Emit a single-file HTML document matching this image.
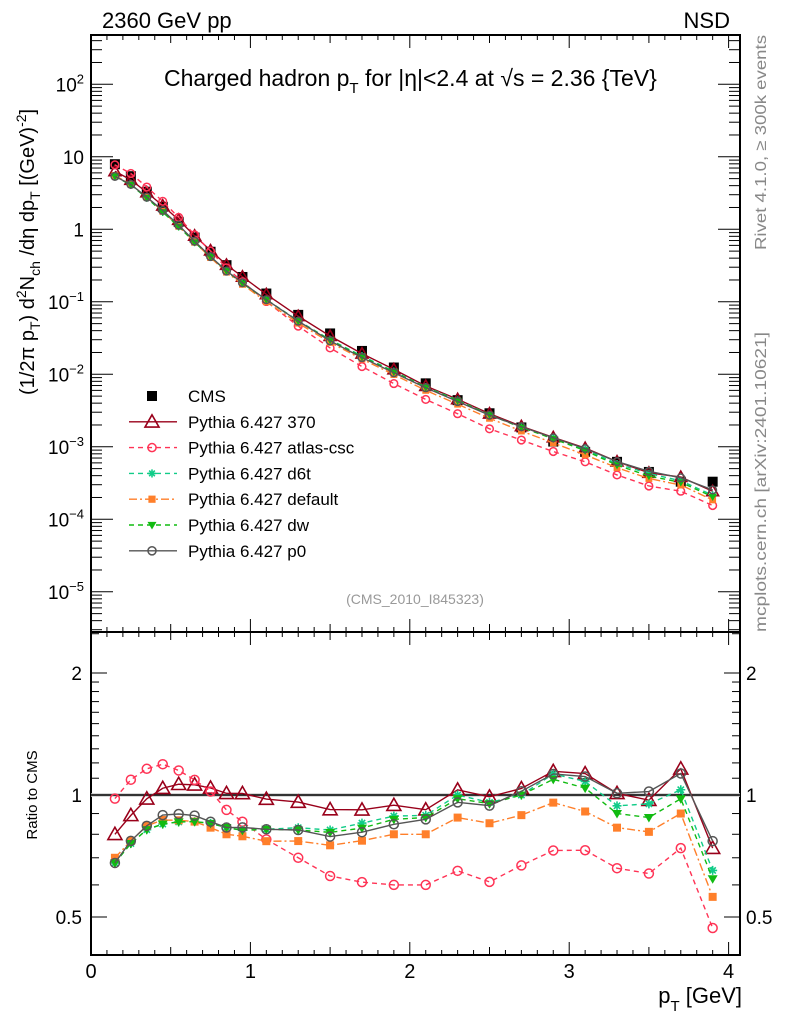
<!DOCTYPE html>
<html><head><meta charset="utf-8"><style>
html,body{margin:0;padding:0;background:#fff;}
svg{display:block;font-family:"Liberation Sans",sans-serif;}
</style></head><body>
<svg id="chart" width="786" height="1024" viewBox="0 0 786 1024" xmlns="http://www.w3.org/2000/svg">
<rect width="786" height="1024" fill="#fff"/>
<text x="102" y="28" font-size="22">2360 GeV pp</text>
<text x="730" y="28" font-size="22" text-anchor="end">NSD</text>
<text x="164" y="86" font-size="23">Charged hadron p<tspan font-size="15" dy="7">T</tspan><tspan dy="-7"> for |η|&lt;2.4 at √s = 2.36 {TeV}</tspan></text>
<text x="415" y="604" font-size="14" fill="#999" text-anchor="middle">(CMS_2010_I845323)</text>
<text transform="translate(766,35) rotate(-90)" x="0" y="0" font-size="16" fill="#888" text-anchor="end" textLength="215" lengthAdjust="spacingAndGlyphs">Rivet 4.1.0, ≥ 300k events</text>
<text transform="translate(766,632) rotate(-90)" x="0" y="0" font-size="16" fill="#888" textLength="300" lengthAdjust="spacingAndGlyphs">mcplots.cern.ch [arXiv:2401.10621]</text>
<text transform="translate(34,395) rotate(-90)" font-size="20">(1/2π p<tspan font-size="14" dy="6">T</tspan><tspan dy="-6">) d</tspan><tspan font-size="14" dy="-8">2</tspan><tspan dy="8">N</tspan><tspan font-size="14" dy="6">ch</tspan><tspan dy="-6"> /dη  dp</tspan><tspan font-size="14" dy="6">T</tspan><tspan dy="-6"> [(GeV)</tspan><tspan font-size="14" dy="-8">-2</tspan><tspan dy="8">]</tspan></text>
<text transform="translate(37,795) rotate(-90)" font-size="15" text-anchor="middle">Ratio to CMS</text>
<text x="742" y="1003" font-size="22" text-anchor="end">p<tspan font-size="15" dy="8">T</tspan><tspan dy="-8"> [GeV]</tspan></text>
<g id="g"></g>
</svg>
<script>
const xs = [0.15,0.25,0.35,0.45,0.55,0.65,0.75,0.85,0.95,1.1,1.3,1.5,1.7,1.9,2.1,2.3,2.5,2.7,2.9,3.1,3.3,3.5,3.7,3.9];
const cms = [7.9,5.4,3.3,2.04,1.27,0.77,0.49,0.32,0.22,0.13,0.066,0.0366,0.021,0.0124,0.0075,0.0044,0.0029,0.00185,0.00118,0.00085,0.00062,0.00045,0.00033,0.00033];
const p370 = [6.32,4.81,3.23,2.12,1.35,0.816,0.510,0.323,0.222,0.127,0.0634,0.0337,0.0193,0.0117,0.0069,0.00453,0.00287,0.00192,0.00135,0.00096,0.000626,0.000437,0.000383,0.000244];
const pAtlas = [7.74,5.89,3.83,2.43,1.46,0.839,0.500,0.294,0.189,0.101,0.0462,0.0231,0.0128,0.00744,0.0045,0.00286,0.00177,0.00124,0.000861,0.000621,0.000409,0.000288,0.000244,0.000155];
const pD6t = [5.37,4.10,2.71,1.73,1.09,0.662,0.417,0.266,0.180,0.107,0.0548,0.0300,0.0179,0.0110,0.00668,0.0044,0.00278,0.00185,0.00133,0.000918,0.000583,0.000428,0.00034,0.000215];
const pDefault = [5.53,4.16,2.77,1.77,1.10,0.662,0.407,0.256,0.174,0.100,0.0508,0.0275,0.0162,0.00992,0.006,0.00387,0.00247,0.00165,0.00113,0.000774,0.000515,0.000365,0.000297,0.000185];
const pDw = [5.37,4.10,2.71,1.73,1.09,0.662,0.417,0.266,0.180,0.107,0.0541,0.0296,0.0174,0.0108,0.0066,0.00431,0.00276,0.00185,0.00129,0.000884,0.000558,0.000396,0.000323,0.000205];
const pP0 = [5.37,4.16,2.77,1.82,1.14,0.685,0.421,0.266,0.183,0.107,0.0541,0.0289,0.0170,0.0105,0.00653,0.00422,0.00273,0.00189,0.00133,0.000944,0.000626,0.000459,0.000373,0.000254];
const seriesNames = ["Pythia 6.427 370","Pythia 6.427 atlas-csc","Pythia 6.427 d6t","Pythia 6.427 default","Pythia 6.427 dw","Pythia 6.427 p0"];
const xTicks = [0,1,2,3,4];
const yDecades = [2,1,0,-1,-2,-3,-4,-5];
const rTicks = [0.5,1,2];

const NS="http://www.w3.org/2000/svg";
const g=document.getElementById('g');
const L=91,R=740,T=35,MB=632,RB=955;
const X=v=>L+v*159.4;
const Y=v=>229.3-72.5*Math.log10(v);
const RY=v=>795-122*Math.log2(v);
function el(tag,attrs,parent){const e=document.createElementNS(NS,tag);for(const k in attrs)e.setAttribute(k,attrs[k]);(parent||g).appendChild(e);return e;}

const f1=el('rect',{x:L,y:T,width:R-L,height:MB-T,fill:'none',stroke:'#000','stroke-width':2});


const f2=el('rect',{x:L,y:MB,width:R-L,height:RB-MB,fill:'none',stroke:'#000','stroke-width':2});



for(let i=0;i<=40;i++){const v=i/10;const x=X(v);if(x>R)break;const major=i%10==0;const mid=i%5==0;
 const len=major?13:(mid?8:5);
 el('line',{x1:x,y1:T,x2:x,y2:T+len,stroke:'#000','stroke-width':1});
 el('line',{x1:x,y1:MB,x2:x,y2:MB-len,stroke:'#000','stroke-width':1});
 el('line',{x1:x,y1:MB,x2:x,y2:MB+len,stroke:'#000','stroke-width':1});
 el('line',{x1:x,y1:RB,x2:x,y2:RB-len,stroke:'#000','stroke-width':1});
}
xTicks.forEach(v=>{const t=el('text',{x:X(v),y:978,'font-size':20,'text-anchor':'middle'});t.textContent=v;
 
 });

for(let d=-6;d<=2;d++){for(let m=1;m<10;m++){const v=m*Math.pow(10,d);const y=Y(v);if(y<T||y>MB)continue;
 const len=m==1?22:11;
 el('line',{x1:L,y1:y,x2:L+len,y2:y,stroke:'#000','stroke-width':1});
 el('line',{x1:R,y1:y,x2:R-len,y2:y,stroke:'#000','stroke-width':1});}}
yDecades.forEach(d=>{const y=Y(Math.pow(10,d));const t=el('text',{x:84,y:y+7,'font-size':19,'text-anchor':'end'});
 
 
 if(d==0)t.textContent='1';else if(d==1)t.textContent='10';else{t.textContent='10';const s=el('tspan',{'font-size':13,dy:-8},t);s.textContent=String(d).replace('-','−');}});

[0.4,0.5,0.6,0.7,0.8,0.9,1,1.1,1.2,1.3,1.4,1.5,1.6,1.7,1.8,1.9,2,2.5].forEach(v=>{const y=RY(v);if(y<MB||y>RB)return;const major=rTicks.includes(v);const len=major?16:8;
 el('line',{x1:L,y1:y,x2:L+len,y2:y,stroke:'#000','stroke-width':1});
 el('line',{x1:R,y1:y,x2:R-len,y2:y,stroke:'#000','stroke-width':1});});
rTicks.forEach(v=>{const y=RY(v);
 const a=el('text',{x:82,y:y+7,'font-size':19,'text-anchor':'end'});a.textContent=v;
 
 
 const b=el('text',{x:746,y:y+7,'font-size':19});b.textContent=v;
 
 });
el('rect',{x:L,y:RY(1.01),width:R-L,height:RY(0.99)-RY(1.01),fill:'#ccc'});
const one=el('line',{x1:L,y1:RY(1),x2:R,y2:RY(1),stroke:'#000','stroke-width':1.5});



const styles=[
 {c:'#99001a',dash:'',m:'tri'},
 {c:'#ff3355',dash:'5,4',m:'circ'},
 {c:'#11cc88',dash:'5,4',m:'star'},
 {c:'#ff7f2a',dash:'8,3,2,3',m:'sq'},
 {c:'#11bb11',dash:'5,4',m:'dtri'},
 {c:'#555555',dash:'',m:'circ'}];
const data=[p370,pAtlas,pD6t,pDefault,pDw,pP0];

function marker(type,x,y,c,parent,sc){sc=sc||1;let e;
 if(type=='tri'){const s=7*sc;e=el('polygon',{points:`${x},${y-s} ${x-s},${y+s*0.75} ${x+s},${y+s*0.75}`,fill:'none',stroke:c,'stroke-width':1.6},parent);}
 else if(type=='dtri'){const s=5*sc;e=el('polygon',{points:`${x-s},${y-s*0.7} ${x+s},${y-s*0.7} ${x},${y+s}`,fill:c},parent);}
 else if(type=='circ'){e=el('circle',{cx:x,cy:y,r:4.5*sc,fill:'none',stroke:c,'stroke-width':1.5},parent);}
 else if(type=='sq'){const s=4*sc;e=el('rect',{x:x-s,y:y-s,width:2*s,height:2*s,fill:c},parent);}
 else if(type=='star'){const s=4.5*sc;e=el('path',{d:`M${x-s},${y}H${x+s}M${x},${y-s}V${y+s}M${x-s*.7},${y-s*.7}L${x+s*.7},${y+s*.7}M${x-s*.7},${y+s*.7}L${x+s*.7},${y-s*.7}`,stroke:c,'stroke-width':1.6},parent);}
 return e;}

const cg=el('g',{});


xs.forEach((x,i)=>{el('rect',{x:X(x)-5,y:Y(cms[i])-5,width:10,height:10,fill:'#000'},cg);});

data.forEach((arr,k)=>{const st=styles[k];const grp=el('g',{});
 
 
 el('polyline',{points:xs.map((x,i)=>X(x)+','+Y(arr[i])).join(' '),fill:'none',stroke:st.c,'stroke-width':1.4,'stroke-dasharray':st.dash},grp);
 xs.forEach((x,i)=>{marker(st.m,X(x),Y(arr[i]),st.c,grp,0.85);});
 const rg=el('g',{});
 
 
 el('polyline',{points:xs.map((x,i)=>X(x)+','+RY(arr[i]/cms[i])).join(' '),fill:'none',stroke:st.c,'stroke-width':1.4,'stroke-dasharray':st.dash},rg);
 xs.forEach((x,i)=>{marker(st.m,X(x),RY(arr[i]/cms[i]),st.c,rg,1);});
});

const lg=el('g',{});


const ly0=396,ldy=25.8;
const ce=el('g',{},lg);


el('rect',{x:147,y:ly0-5,width:10,height:10,fill:'#000'},ce);
const ct=el('text',{x:188,y:ly0+6,'font-size':17},ce);ct.textContent='CMS';
seriesNames.forEach((n,k)=>{const st=styles[k];const y=ly0+ldy*(k+1);const e=el('g',{},lg);
 
 
 el('line',{x1:129,y1:y,x2:177,y2:y,stroke:st.c,'stroke-width':1.4,'stroke-dasharray':st.dash},e);
 marker(st.m,152,y,st.c,e,k==0?1:0.9);
 const t=el('text',{x:188,y:y+6,'font-size':17},e);t.textContent=n;});
</script>
</body></html>
